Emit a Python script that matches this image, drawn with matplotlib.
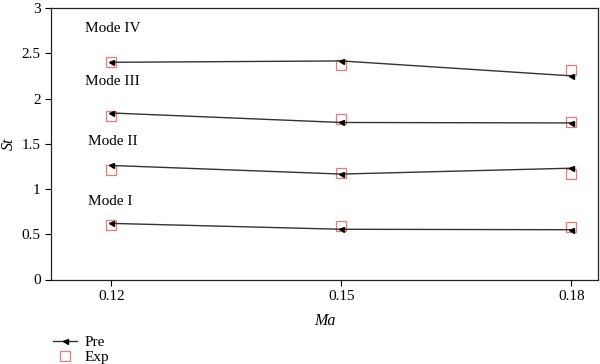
import matplotlib
matplotlib.use("Agg")
import matplotlib.pyplot as plt

plt.rcParams['font.family'] = ['Liberation Serif', 'DejaVu Serif']

# Mach numbers
ma = [0.12, 0.15, 0.18]

# predicted Strouhal numbers per mode
pre_mode1 = [0.62, 0.555, 0.55]
pre_mode2 = [1.26, 1.165, 1.23]
pre_mode3 = [1.84, 1.735, 1.73]
pre_mode4 = [2.40, 2.415, 2.25]

# experimental Strouhal numbers per mode
exp_mode1 = [0.60, 0.59, 0.575]
exp_mode2 = [1.205, 1.18, 1.165]
exp_mode3 = [1.81, 1.775, 1.74]
exp_mode4 = [2.40, 2.37, 2.32]

mode_labels = ["Mode I", "Mode II", "Mode III", "Mode IV"]
label_y = [0.86, 1.52, 2.19, 2.77]

pre_all = [pre_mode1, pre_mode2, pre_mode3, pre_mode4]
exp_all = [exp_mode1, exp_mode2, exp_mode3, exp_mode4]

fig = plt.figure(figsize=(6, 3.64), dpi=100)
ax = fig.add_axes([51 / 600, 1 - 279.5 / 364, 547 / 600, 271.5 / 364])

line_col = "#333333"
sq_col = "#f07878"

for i in range(4):
    ax.plot(ma, pre_all[i], color=line_col, lw=1.0, marker="<", ms=3.6,
            mfc="black", mec="black", zorder=3,
            label="Pre" if i == 0 else None)
    ax.plot(ma, exp_all[i], ls="none", marker="s", ms=7, mfc="none",
            mec=sq_col, mew=0.9, zorder=2,
            label="Exp" if i == 0 else None)

# mode labels
for lab, y in zip(mode_labels, label_y):
    x0 = 0.1165 if lab in ("Mode III", "Mode IV") else 0.1170
    ax.text(x0, y, lab, fontsize=11, va="center", ha="left")

ax.set_xlim(0.11211, 0.18346)
ax.set_ylim(0, 3)
ax.set_xticks(ma)
ax.set_xticklabels(["0.12", "0.15", "0.18"])
ax.set_yticks([0, 0.5, 1, 1.5, 2, 2.5, 3])
ax.set_yticklabels(["0", "0.5", "1", "1.5", "2", "2.5", "3"])
ax.tick_params(direction="out", length=4, width=0.8, labelsize=11,
               top=False, right=False)
for sp in ax.spines.values():
    sp.set_linewidth(0.9)
    sp.set_color("#222222")

ax.set_xlabel("Ma", fontstyle="italic", fontsize=11.5, labelpad=7)
ax.set_ylabel("St", fontstyle="italic", fontsize=11.5)
ax.yaxis.set_label_coords(-0.063, 0.5)

fig.legend(loc="upper left", bbox_to_anchor=(0.075, 0.1), frameon=False,
           fontsize=11, handlelength=1.6, handletextpad=0.5,
           labelspacing=0.1, borderpad=0)

fig.savefig("out.png", dpi=100)
